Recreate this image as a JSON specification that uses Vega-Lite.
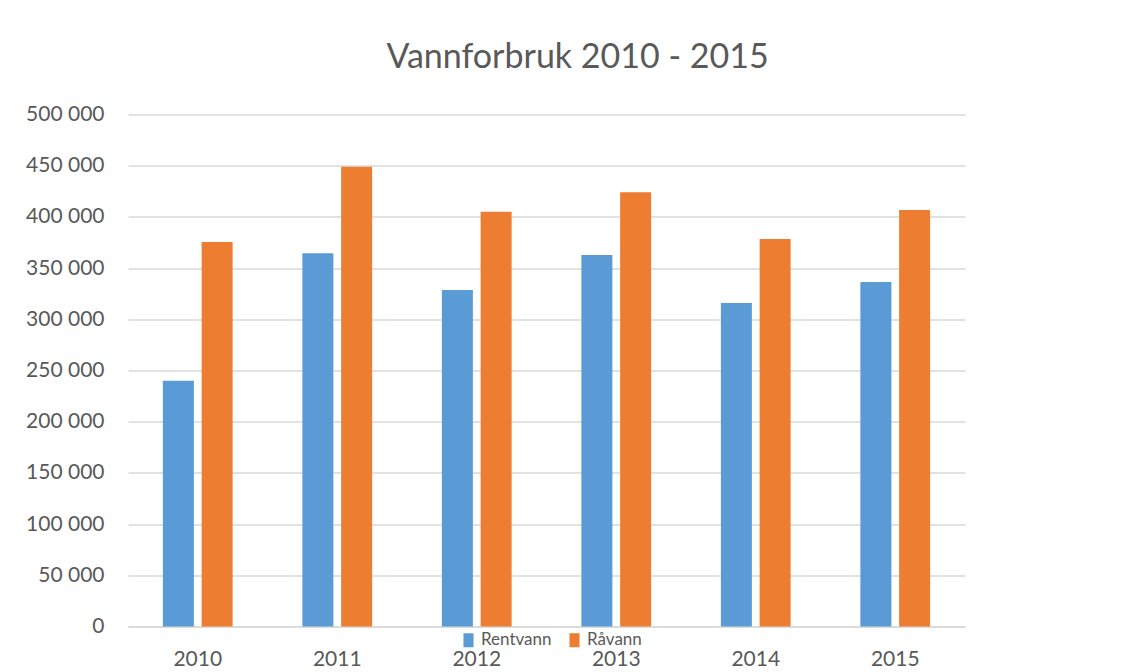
{
  "$schema": "https://vega.github.io/schema/vega-lite/v6.json",
  "width": 837,
  "height": 512,
  "autosize": {"type": "none"},
  "padding": {"left": 128, "top": 114.5, "right": 176, "bottom": 45.5},
  "background": "white",
  "title": {
    "text": "Vannforbruk 2010 - 2015",
    "font": "Lato",
    "fontSize": 34,
    "fontWeight": "normal",
    "color": "#595959",
    "anchor": "middle",
    "dx": 31,
    "offset": 29
  },
  "data": {
    "values": [
      {"year": "2010", "type": "Rentvann", "value": 240000},
      {"year": "2010", "type": "Råvann", "value": 375500},
      {"year": "2011", "type": "Rentvann", "value": 364500},
      {"year": "2011", "type": "Råvann", "value": 449000},
      {"year": "2012", "type": "Rentvann", "value": 328600},
      {"year": "2012", "type": "Råvann", "value": 405000},
      {"year": "2013", "type": "Rentvann", "value": 362800},
      {"year": "2013", "type": "Råvann", "value": 424000},
      {"year": "2014", "type": "Rentvann", "value": 316000},
      {"year": "2014", "type": "Råvann", "value": 378400},
      {"year": "2015", "type": "Rentvann", "value": 336400},
      {"year": "2015", "type": "Råvann", "value": 406700}
    ]
  },
  "mark": {"type": "bar"},
  "encoding": {
    "x": {
      "field": "year",
      "type": "nominal",
      "scale": {"paddingInner": 0.5, "paddingOuter": 0.25},
      "axis": {
        "title": null,
        "labelAngle": 0,
        "labelFont": "Lato",
        "labelFontSize": 21,
        "labelColor": "#595959",
        "labelPadding": 22,
        "ticks": false,
        "domainColor": "#d9d9d9",
        "domainWidth": 1.5
      }
    },
    "xOffset": {
      "field": "type",
      "type": "nominal",
      "scale": {"paddingInner": 0.2},
      "sort": ["Rentvann", "Råvann"]
    },
    "y": {
      "field": "value",
      "type": "quantitative",
      "scale": {"domain": [0, 500000], "nice": false},
      "axis": {
        "title": null,
        "values": [0, 50000, 100000, 150000, 200000, 250000, 300000, 350000, 400000, 450000, 500000],
        "labelExpr": "replace(format(datum.value, ','), ',', ' ')",
        "labelFont": "Lato",
        "labelFontSize": 21,
        "labelColor": "#595959",
        "labelPadding": 24,
        "ticks": false,
        "domain": false,
        "grid": true,
        "gridColor": "#d9d9d9",
        "gridWidth": 1.5
      }
    },
    "color": {
      "field": "type",
      "type": "nominal",
      "sort": ["Rentvann", "Råvann"],
      "scale": {"domain": ["Rentvann", "Råvann"], "range": ["#5B9BD5", "#ED7D31"]},
      "legend": {
        "title": null,
        "orient": "none",
        "direction": "horizontal",
        "legendX": 332,
        "legendY": 517,
        "symbolType": "M-0.72,-1H0.72V1H-0.72Z",
        "symbolSize": 196,
        "symbolOpacity": 1,
        "symbolStrokeWidth": 0,
        "labelFont": "Lato",
        "labelFontSize": 17,
        "labelColor": "#595959",
        "columnPadding": 14,
        "labelOffset": 4
      }
    }
  },
  "config": {
    "view": {"stroke": null}
  }
}
